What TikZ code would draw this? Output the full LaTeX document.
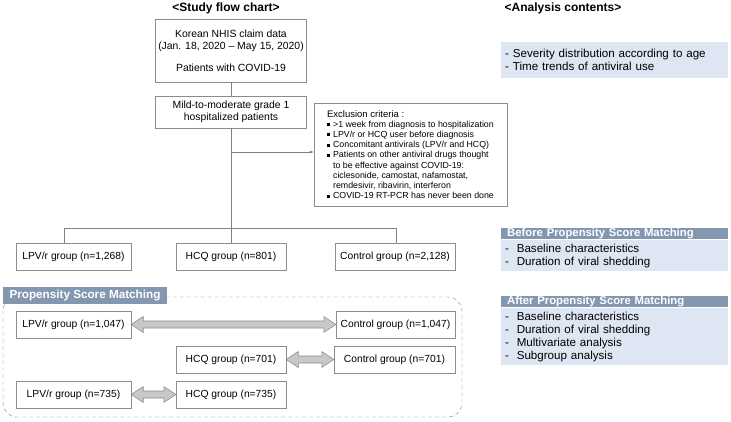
\documentclass[tikz,border=0pt]{standalone}
\usepackage{fontspec}
\setmainfont{Liberation Sans}
\usetikzlibrary{calc}
\definecolor{boxEdge}{RGB}{140,140,140}
\definecolor{lineGray}{RGB}{128,128,128}
\definecolor{anaFill}{RGB}{221,230,242}
\definecolor{anaHead}{RGB}{132,151,176}
\definecolor{arrowFill}{RGB}{200,200,200}
\definecolor{arrowEdge}{RGB}{140,140,140}

% wide grey double arrow between two boxes
\newcommand{\fatarrow}[2]{%
  \filldraw[fatarrow] (#1.east) -- ($(#1.east)+(12pt,8pt)$) -- ($(#1.east)+(12pt,3.5pt)$)
    -- ($(#2.west)+(-12pt,3.5pt)$) -- ($(#2.west)+(-12pt,8pt)$) -- (#2.west)
    -- ($(#2.west)+(-12pt,-8pt)$) -- ($(#2.west)+(-12pt,-3.5pt)$)
    -- ($(#1.east)+(12pt,-3.5pt)$) -- ($(#1.east)+(12pt,-8pt)$) -- cycle;}
\newcommand{\sqb}{\rule[0.25ex]{3pt}{3pt}\hspace{3pt}}

\begin{document}
\begin{tikzpicture}[x=1pt, y=-1pt]
            \tikzstyle{title} = [font=\fontsize{12}{13}\selectfont\bfseries]
            \tikzstyle{flow} = [draw=boxEdge, fill=white, minimum width=151pt, inner sep=0pt, align=center, font=\fontsize{10.4}{12}\selectfont]
            \tikzstyle{group} = [draw=boxEdge, fill=white, minimum height=27pt, inner sep=0pt, font=\fontsize{10.3}{12}\selectfont]
            \tikzstyle{excl} = [draw=boxEdge, fill=white, minimum width=193pt, minimum height=103pt, inner sep=0pt, align=left, font=\fontsize{8.8}{10.2}\selectfont]
            \tikzstyle{link} = [draw=lineGray]
            \tikzstyle{arrow} = [->, >=latex, lineGray]
            \tikzstyle{fatarrow} = [draw=arrowEdge, fill=arrowFill, line width=0.6pt, line join=round]
            \tikzstyle{psmlabel} = [fill=anaHead, text=white, minimum width=164pt, minimum height=17pt, inner sep=0pt, font=\fontsize{11.7}{13}\selectfont\bfseries]
            \tikzstyle{psmframe} = [draw=lineGray, dash pattern=on 4pt off 3pt, rounded corners=14pt]
            \tikzstyle{anahead} = [fill=anaHead, text=white, anchor=north west, minimum width=227pt, minimum height=11pt, text width=215pt, inner xsep=6pt, inner ysep=0pt, text height=8.5pt, text depth=2.5pt, align=left, font=\fontsize{11.3}{12}\selectfont\bfseries]
            \tikzstyle{anabody} = [fill=anaFill, anchor=north west, text width=219pt, inner xsep=4pt, align=left, font=\fontsize{11.6}{13}\selectfont]

            \useasboundingbox (0,0) rectangle (731,421);

            % Titles
            \node[title] (flowtitle) at (226,8) {<Study flow chart>};
            \node[title] (anatitle) at (563,8) {<Analysis contents>};

            % Study flow
            \node[flow, minimum height=63pt] (source) at (231,50.5) {Korean NHIS claim data\\(Jan. 18, 2020 -- May 15, 2020)\\[10pt]Patients with COVID-19};
            \node[flow, minimum height=32pt] (hosp) at (231,112) {Mild-to-moderate grade 1\\hospitalized patients};
            \node[excl] (excl) at (410.5,154.5) {{\fontsize{9.5}{10.2}\selectfont Exclusion criteria :}\\
                \sqb >1 week from diagnosis to hospitalization\\
                \sqb LPV/r or HCQ user before diagnosis\\
                \sqb Concomitant antivirals (LPV/r and HCQ)\\
                \sqb Patients on other antiviral drugs thought\\
                \hspace*{6pt}to be effective against COVID-19:\\
                \hspace*{6pt}ciclesonide, camostat, nafamostat,\\
                \hspace*{6pt}remdesivir, ribavirin, interferon\\
                \sqb COVID-19 RT-PCR has never been done};

            % Groups before matching
            \node[group, minimum width=115pt] (lpvA) at (73.5,256.5) {LPV/r group (n=1,268)};
            \node[group, minimum width=110pt] (hcqA) at (231,256.5) {HCQ group (n=801)};
            \node[group, minimum width=120pt] (ctlA) at (395,256.5) {Control group (n=2,128)};

            % Connectors
            \coordinate (exclsplit) at (231,152);
            \coordinate (branchL) at (64,228);
            \coordinate (branchR) at (396,228);
            \draw[link] (source) -- (hosp);
            \draw[link] (hosp) -- (hcqA);
            \draw[arrow] (exclsplit) -- (exclsplit -| excl.west);
            \draw[link] (branchL |- lpvA.north) -- (branchL) -- (branchR) -- (branchR |- ctlA.north);

            % Propensity score matching
            \draw[psmframe] (3,297) rectangle (462,417);
            \node[psmlabel] (psm) at (85,295.5) {Propensity Score Matching};
            \node[group, minimum width=115pt] (lpvB) at (73.5,324.5) {LPV/r group (n=1,047)};
            \node[group, minimum width=119pt] (ctlB) at (395.5,324.5) {Control group (n=1,047)};
            \node[group, minimum width=110pt] (hcqC) at (231,359.5) {HCQ group (n=701)};
            \node[group, minimum width=121pt] (ctlC) at (394.5,359.5) {Control group (n=701)};
            \node[group, minimum width=115pt] (lpvD) at (73.5,394.5) {LPV/r group (n=735)};
            \node[group, minimum width=110pt] (hcqD) at (231,394.5) {HCQ group (n=735)};
            \fatarrow{lpvB}{ctlB}
            \fatarrow{hcqC}{ctlC}
            \fatarrow{lpvD}{hcqD}

            % Analysis contents
            \node[anabody, inner ysep=7pt] (anaAll) at (501,42) {- Severity distribution according to age\\- Time trends of antiviral use};
            \node[anahead] (beforeHead) at (501,228) {Before Propensity Score Matching};
            \node[anabody, inner ysep=4pt] (beforeBody) at (beforeHead.south west) {-\ \ Baseline characteristics\\-\ \ Duration of viral shedding};
            \node[anahead] (afterHead) at (501,296) {After Propensity Score Matching};
            \node[anabody, inner ysep=4pt] (afterBody) at (afterHead.south west) {-\ \ Baseline characteristics\\-\ \ Duration of viral shedding\\-\ \ Multivariate analysis\\-\ \ Subgroup analysis};
        \end{tikzpicture}
\end{document}
